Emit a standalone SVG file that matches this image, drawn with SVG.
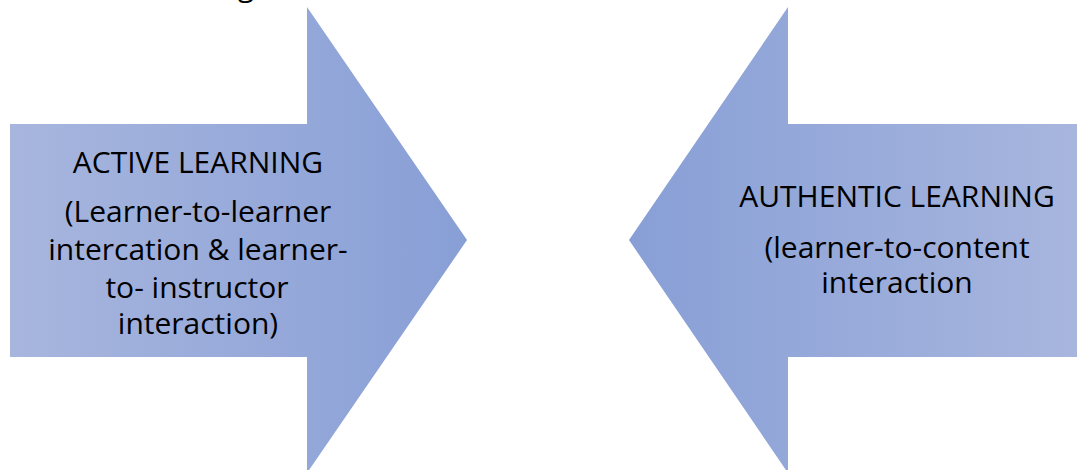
<svg xmlns="http://www.w3.org/2000/svg" width="1077" height="470" viewBox="0 0 1077 470">
  <defs>
    <linearGradient id="gradRight" x1="10" y1="0" x2="467" y2="0" gradientUnits="userSpaceOnUse">
      <stop offset="0" stop-color="#a8b6de"/>
      <stop offset="1" stop-color="#889fd6"/>
    </linearGradient>
    <linearGradient id="gradLeft" x1="629" y1="0" x2="1077" y2="0" gradientUnits="userSpaceOnUse">
      <stop offset="0" stop-color="#889fd6"/>
      <stop offset="1" stop-color="#a8b6de"/>
    </linearGradient>
    <style>
      .lbl { font-family: "Open Sans", "Noto Sans", "DejaVu Sans", sans-serif; font-size: 30px; fill: #000; text-anchor: middle; }
    </style>
  </defs>

  <rect width="1077" height="470" fill="#ffffff"/>

  <!-- descender of a caption line above the frame -->
  <text x="246" y="-4" class="lbl">g</text>

  <g id="active-learning">
    <polygon points="10,124 307,124 307,7 467,240 307,473 307,357 10,357" fill="url(#gradRight)"/>
    <text class="lbl" x="198" y="173">ACTIVE LEARNING</text>
    <text class="lbl" x="198" y="222">(Learner-to-learner</text>
    <text class="lbl" x="198" y="260">intercation &amp; learner-</text>
    <text class="lbl" x="197" y="298">to- instructor</text>
    <text class="lbl" x="198" y="334">interaction)</text>
  </g>

  <g id="authentic-learning">
    <polygon points="1077,124 788,124 788,7 629,240 788,473 788,357 1077,357" fill="url(#gradLeft)"/>
    <text class="lbl" x="897" y="207">AUTHENTIC LEARNING</text>
    <text class="lbl" x="897" y="258">(learner-to-content</text>
    <text class="lbl" x="897" y="293">interaction</text>
  </g>

  <g id="connectors"/>
</svg>
